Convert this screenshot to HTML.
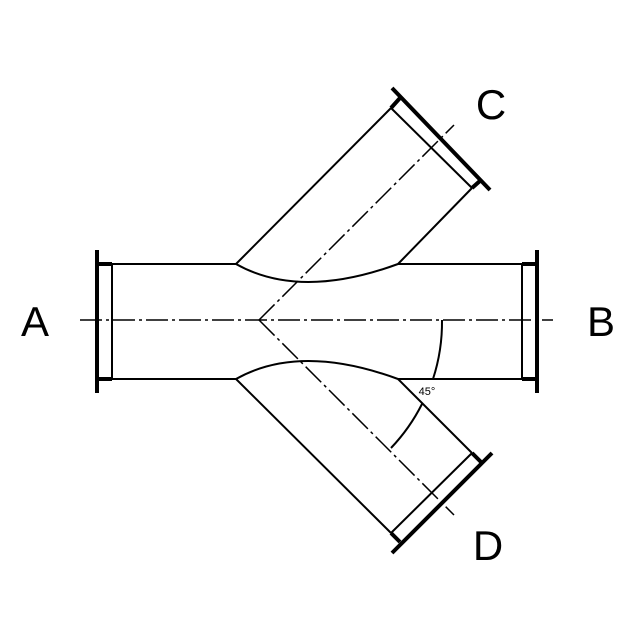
<!DOCTYPE html>
<html><head><style>body{margin:0;background:#fff}svg{display:block}</style></head><body>
<svg width="640" height="640" viewBox="0 0 640 640" xmlns="http://www.w3.org/2000/svg">
<rect width="640" height="640" fill="#fff"/>
<g stroke="#000" fill="none" stroke-width="2">
<!-- main pipe -->
<line x1="112" y1="264" x2="236" y2="264"/>
<line x1="398" y1="264" x2="522" y2="264"/>
<line x1="112" y1="379" x2="236" y2="379"/>
<line x1="398" y1="379" x2="522" y2="379"/>
<line x1="112" y1="264" x2="112" y2="379"/>
<line x1="522" y1="264" x2="522" y2="379"/>
<line x1="97" y1="250" x2="97" y2="393" stroke-width="4"/>
<line x1="537" y1="250" x2="537" y2="393" stroke-width="4"/>
<line x1="98" y1="264" x2="112" y2="264" stroke-width="4"/>
<line x1="98" y1="379" x2="112" y2="379" stroke-width="4"/>
<line x1="522" y1="264" x2="536" y2="264" stroke-width="4"/>
<line x1="522" y1="379" x2="536" y2="379" stroke-width="4"/>
<!-- arcs -->
<path d="M236,264 Q300,300 398,264"/>
<path d="M236,379 Q300,343 398,379"/>
<!-- branch C -->
<line x1="236" y1="264" x2="391" y2="108"/>
<line x1="398" y1="264" x2="472" y2="188"/>
<line x1="391" y1="108" x2="472" y2="188"/>
<line x1="392" y1="88" x2="490" y2="190" stroke-width="4"/>
<line x1="391" y1="108" x2="400" y2="98" stroke-width="4"/>
<line x1="472" y1="188" x2="481" y2="180" stroke-width="4"/>
<!-- branch D -->
<line x1="236" y1="379" x2="391" y2="533"/>
<line x1="398" y1="379" x2="472" y2="453"/>
<line x1="391" y1="533" x2="472" y2="453"/>
<line x1="392" y1="553" x2="492" y2="453" stroke-width="4"/>
<line x1="391" y1="533" x2="400" y2="542" stroke-width="4"/>
<line x1="472" y1="453" x2="481" y2="462" stroke-width="4"/>
<!-- centerlines -->
<g stroke-width="1.5" stroke-dasharray="22,4,3,4">
<line x1="80" y1="320" x2="553" y2="320"/>
<line x1="259" y1="320" x2="454" y2="125"/>
<line x1="259" y1="320" x2="454" y2="515"/>
</g>
<!-- angle arc -->
<path d="M442,320 A183,183 0 0 1 433,379"/>
<path d="M422,404 A183,183 0 0 1 391,448"/>
</g>
<g font-family="Liberation Sans, sans-serif" fill="#000">
<text x="427" y="395" font-size="11" text-anchor="middle">45°</text>
<text x="35" y="336" font-size="42" text-anchor="middle">A</text>
<text x="601" y="336" font-size="42" text-anchor="middle">B</text>
<text x="491" y="119" font-size="42" text-anchor="middle">C</text>
<text x="488" y="560" font-size="42" text-anchor="middle">D</text>
</g>
</svg>
</body></html>
